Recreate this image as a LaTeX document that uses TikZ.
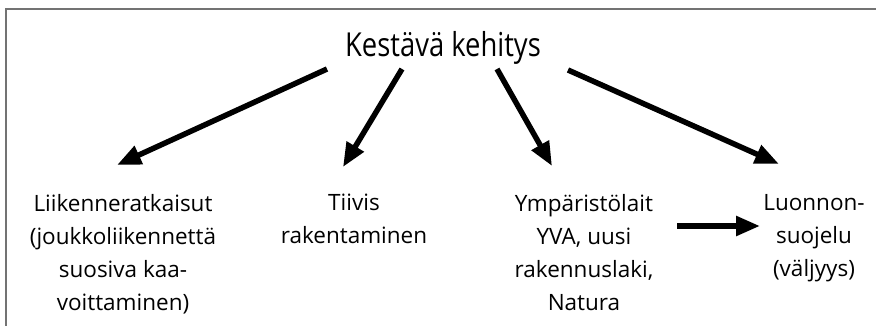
\documentclass[tikz,border=0pt]{standalone}
\usepackage{fontspec}
\setmainfont{Open Sans}
\newfontfamily\titlefont[FakeStretch=0.83]{Open Sans}
\usetikzlibrary{arrows.meta}

\begin{document}
\begin{tikzpicture}[x=1pt,y=-1pt,
		teksti/.style={align=center,anchor=north,inner sep=0pt,
			font=\fontsize{22.5}{33}\selectfont},
		nuoli/.style={line width=5.5pt,-{Triangle[length=24pt,width=19pt]}}]
	\useasboundingbox (0,0) rectangle (876,326);
	% frame, only top and left edge
	\draw[black!55,line width=2pt] (5.5,326) -- (5.5,9.5) -- (876,9.5);
	% heading
	\node[anchor=base,inner sep=0pt,font=\titlefont\fontsize{33}{36}\selectfont]
		(kestava) at (443,57) {Kestävä kehitys};
	% the four themes
	\node[teksti] (liikenne) at (123,194)
		{Liikenneratkaisut\\(joukkoliikennettä\\suosiva kaa-\\voittaminen)};
	\node[teksti] (tiivis) at (354,194) {Tiivis\\rakentaminen};
	\node[teksti] (ymparisto) at (584,194)
		{Ympäristölait\\YVA, uusi\\rakennuslaki,\\Natura};
	\node[teksti] (luonnon) at (814,194) {Luonnon-\\suojelu\\(väljyys)};
	% arrows
	\draw[nuoli] ([xshift=-116pt,yshift=-12pt]kestava.base) -- ([xshift=-6pt,yshift=29pt]liikenne.north);
	\draw[nuoli] ([xshift=-41pt,yshift=-12pt]kestava.base) -- ([xshift=-11pt,yshift=27pt]tiivis.north);
	\draw[nuoli] ([xshift=54pt,yshift=-12pt]kestava.base) -- ([xshift=-32pt,yshift=28pt]ymparisto.north);
	\draw[nuoli] ([xshift=125pt,yshift=-13pt]kestava.base) -- ([xshift=-35pt,yshift=30pt]luonnon.north);
	\draw[nuoli] ([xshift=93pt,yshift=-32pt]ymparisto.north) -- ([xshift=-54pt,yshift=-32pt]luonnon.north);
\end{tikzpicture}
\end{document}
